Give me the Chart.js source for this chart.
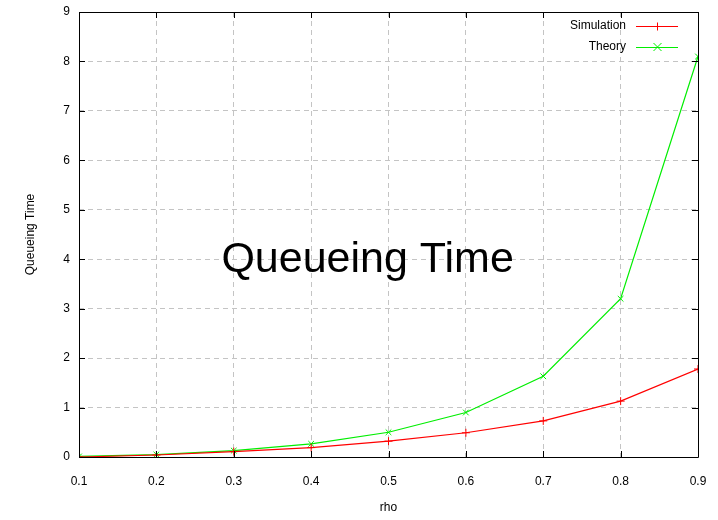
<!DOCTYPE html>
<html>
<head>
<meta charset="utf-8">
<script src="https://cdn.jsdelivr.net/npm/chart.js@4/dist/chart.umd.min.js"></script>
<style>
  html, body { margin: 0; padding: 0; background: #fff; }
  #wrap { width: 718px; height: 520px; }
</style>
</head>
<body>
<div id="wrap"><canvas id="myChart" width="718" height="520"></canvas></div>
<script>
const rho = [0.1, 0.2, 0.3, 0.4, 0.5, 0.6, 0.7, 0.8, 0.9];
const simulation = [0.0, 0.04, 0.11, 0.19, 0.32, 0.49, 0.73, 1.13, 1.78];
const theory = [0.011, 0.05, 0.129, 0.267, 0.5, 0.9, 1.633, 3.2, 8.1];
const yTicks = [0, 1, 2, 3, 4, 5, 6, 7, 8, 9];
const plotLabel = 'Queueing Time';

const FONT = "'Liberation Sans', Arial, sans-serif";

// frame, inward ticks, legend and the big label, gnuplot style
const gnuplotBits = {
  id: 'gnuplotBits',
  afterDatasetsDraw(chart) {
    const ctx = chart.ctx;
    const a = chart.chartArea;
    const xs = chart.scales.x, ys = chart.scales.y;
    ctx.save();
    ctx.strokeStyle = '#000';
    ctx.lineWidth = 1;
    ctx.beginPath();
    ctx.rect(Math.round(a.left) + 0.5, Math.round(a.top) + 0.5,
             Math.round(a.right - a.left), Math.round(a.bottom - a.top));
    ctx.stroke();
    ctx.beginPath();
    rho.forEach(v => {
      const px = Math.round(xs.getPixelForValue(v)) + 0.5;
      ctx.moveTo(px, a.bottom); ctx.lineTo(px, a.bottom - 6);
      ctx.moveTo(px, a.top); ctx.lineTo(px, a.top + 6);
    });
    yTicks.forEach(v => {
      const py = Math.round(ys.getPixelForValue(v)) + 0.5;
      ctx.moveTo(a.left, py); ctx.lineTo(a.left + 6, py);
      ctx.moveTo(a.right, py); ctx.lineTo(a.right - 6, py);
    });
    ctx.stroke();

    // legend
    ctx.font = '12px ' + FONT;
    ctx.textAlign = 'right';
    ctx.textBaseline = 'middle';
    chart.data.datasets.forEach((ds, i) => {
      const y = 26 + i * 21;
      ctx.fillStyle = '#000';
      ctx.fillText(ds.label, 626, y);
      ctx.strokeStyle = ds.borderColor;
      ctx.beginPath();
      ctx.moveTo(636, y + 0.5); ctx.lineTo(678, y + 0.5);
      ctx.stroke();
      const m = 657.5, r = 4;
      ctx.beginPath();
      if (ds.pointStyle === 'cross') {
        ctx.moveTo(m - r, y + 0.5); ctx.lineTo(m + r, y + 0.5);
        ctx.moveTo(m, y - r + 0.5); ctx.lineTo(m, y + r + 0.5);
      } else {
        ctx.moveTo(m - r, y - r); ctx.lineTo(m + r, y + r);
        ctx.moveTo(m - r, y + r); ctx.lineTo(m + r, y - r);
      }
      ctx.stroke();
    });

    // big label inside the plot
    ctx.fillStyle = '#000';
    ctx.font = '43px ' + FONT;
    ctx.textAlign = 'center';
    ctx.textBaseline = 'alphabetic';
    ctx.fillText(plotLabel, xs.getPixelForValue(0.473), ys.getPixelForValue(3.74));
    ctx.restore();
  }
};

function noPad(scale) {
  scale.paddingTop = 0;
  scale.paddingBottom = 0;
  scale.paddingLeft = 0;
  scale.paddingRight = 0;
}

const data = {
  datasets: [{
    label: 'Simulation',
    data: rho.map((x, i) => ({ x: x, y: simulation[i] })),
    borderColor: '#ff0000',
    backgroundColor: '#ff0000',
    borderWidth: 1.2,
    pointStyle: 'cross',
    pointRadius: 4,
    pointBorderWidth: 1,
  }, {
    label: 'Theory',
    data: rho.map((x, i) => ({ x: x, y: theory[i] })),
    borderColor: '#00ee00',
    backgroundColor: '#00ee00',
    borderWidth: 1.2,
    pointStyle: 'crossRot',
    pointRadius: 4,
    pointBorderWidth: 1,
  }]
};

const config = {
  type: 'line',
  data: data,
  plugins: [gnuplotBits],
  options: {
    responsive: false,
    animation: false,
    layout: { padding: { left: 0, right: 20, top: 12, bottom: 0 } },
    plugins: {
      legend: { display: false },
      tooltip: { enabled: false },
    },
    scales: {
      x: {
        type: 'linear',
        min: 0.1,
        max: 0.9,
        afterFit(scale) { scale.height = 63; noPad(scale); },
        afterBuildTicks(scale) { scale.ticks = rho.map(v => ({ value: v })); },
        ticks: {
          color: '#000',
          font: { family: FONT, size: 12 },
          padding: 17,
          callback: v => v.toFixed(1),
        },
        grid: { color: '#c4c4c4', drawTicks: false },
        border: { display: false, dash: [5, 4] },
        title: {
          display: true,
          text: 'rho',
          color: '#000',
          font: { family: FONT, size: 12 },
          padding: { top: 0, bottom: 5 },
        },
      },
      y: {
        type: 'linear',
        min: 0,
        max: 9,
        afterFit(scale) { scale.width = 79; noPad(scale); },
        afterBuildTicks(scale) { scale.ticks = yTicks.map(v => ({ value: v })); },
        ticks: {
          color: '#000',
          font: { family: FONT, size: 12 },
          padding: 9,
        },
        grid: { color: '#c4c4c4', drawTicks: false },
        border: { display: false, dash: [5, 4] },
        title: {
          display: true,
          text: 'Queueing Time',
          color: '#000',
          font: { family: FONT, size: 12 },
          padding: { top: 23, bottom: 0 },
        },
      }
    }
  }
};

const myChart = new Chart(document.getElementById('myChart'), config);
</script>
</body>
</html>
